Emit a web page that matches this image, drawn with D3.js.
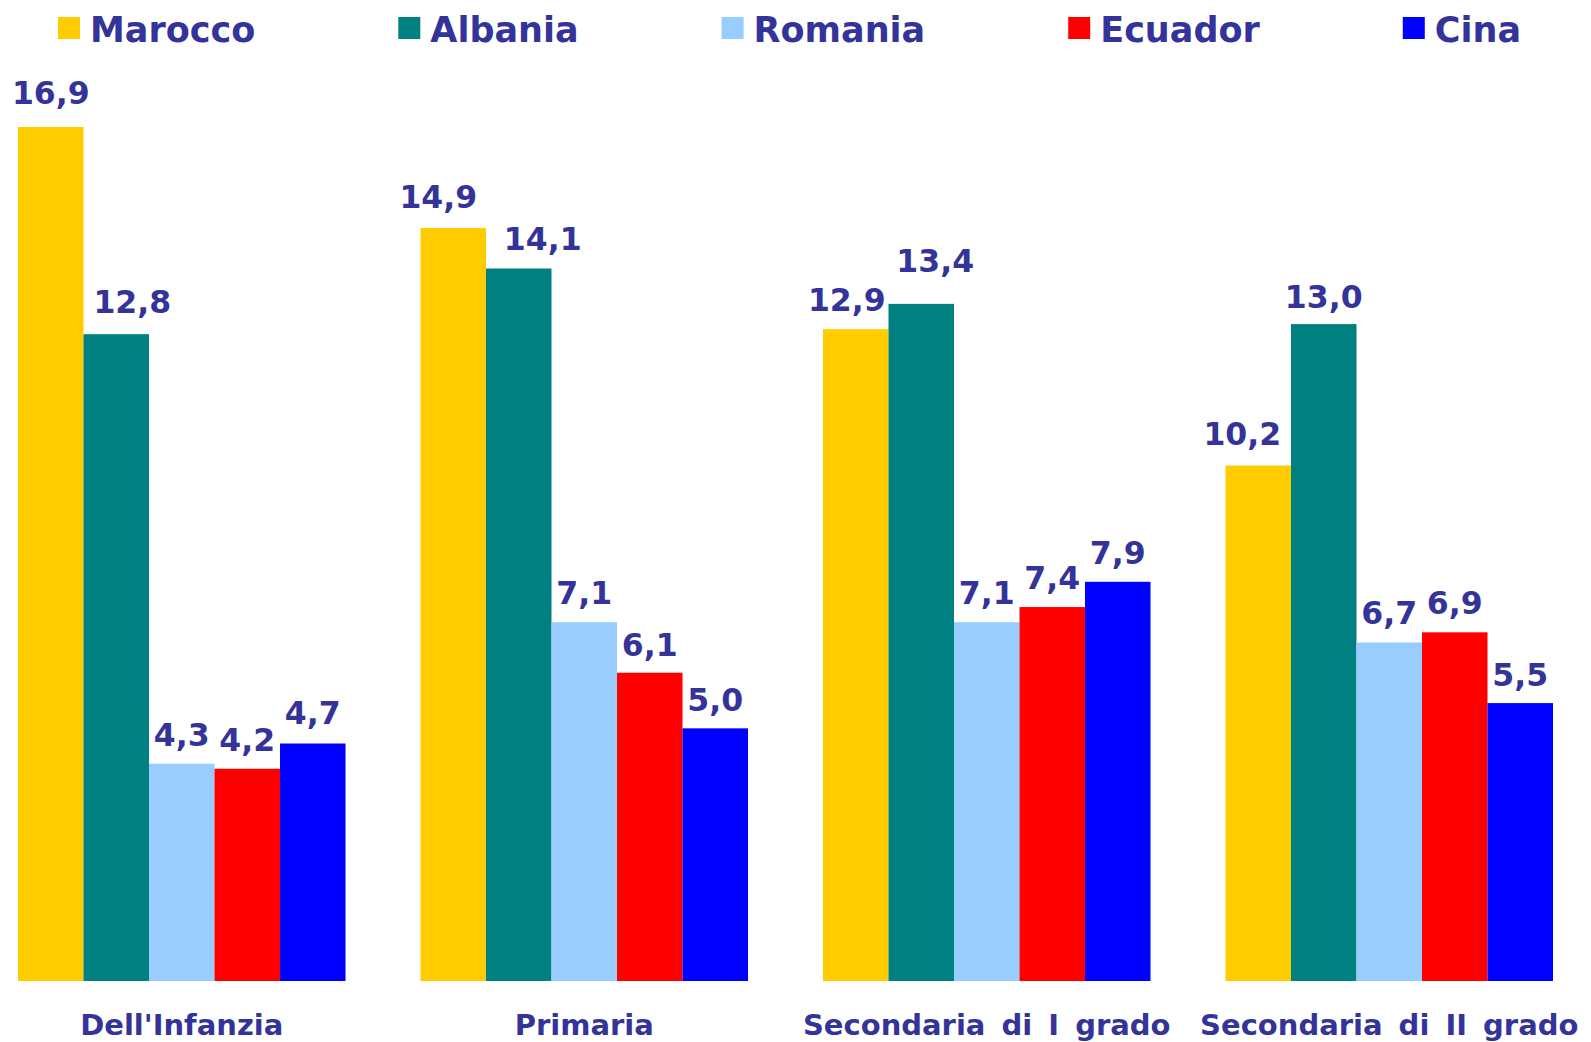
<!DOCTYPE html>
<html>
<head>
<meta charset="utf-8">
<script src="https://cdn.jsdelivr.net/npm/d3@7"></script>
<style>
  html, body { margin: 0; padding: 0; background: #ffffff; }
  svg { display: block; }
</style>
</head>
<body>
<svg id="chart" width="1591" height="1042"></svg>
<script>
// ---- Data ----
const categories = ["Dell'Infanzia", "Primaria", "Secondaria di I grado", "Secondaria di II grado"];
const series = ["Marocco", "Albania", "Romania", "Ecuador", "Cina"];
const marocco = [16.9, 14.9, 12.9, 10.2];
const albania = [12.8, 14.1, 13.4, 13.0];
const romania = [4.3, 7.1, 7.1, 6.7];
const ecuador = [4.2, 6.1, 7.4, 6.9];
const cina    = [4.7, 5.0, 7.9, 5.5];
const values = [marocco, albania, romania, ecuador, cina];

// ---- Style / layout ----
const colors = ["#FFCC00", "#008080", "#99CCFF", "#FF0000", "#0000FF"];
const textColor = "#333399";
const font = "'DejaVu Sans', Verdana, sans-serif";
// label nudges [category][series] in px (to avoid overlaps, as in original)
const labelDx = [[0, 16, 0, 0, 0], [-15, 24, 0, 0, 0], [-9, 14, 0, 0, 0], [-16, 0, 0, 0, 0]];
const labelDy = [[-5, -3, 0, 0, -1], [-2, 0, 0, 1, 1], [0, -14, 0, 0, 0], [-3, 2, 0, 0, 1]];

const svg = d3.select("#chart");

const x0 = d3.scaleBand().domain(categories).range([18, 1553]).paddingInner(0.1863).paddingOuter(0);
const x1 = d3.scaleBand().domain(series).range([0, x0.bandwidth()]).padding(0);
const y = d3.scaleLinear().domain([0, 16.9]).range([981, 127]);

const groups = svg.append("g").selectAll("g")
  .data(categories)
  .join("g")
  .attr("transform", d => `translate(${x0(d)},0)`);

groups.each(function(cat, ci) {
  const g = d3.select(this);
  const rows = series.map((s, si) => ({ s, si, v: values[si][ci] }));
  g.selectAll("rect")
    .data(rows)
    .join("rect")
    .attr("x", d => x1(d.s))
    .attr("y", d => y(d.v))
    .attr("width", x1.bandwidth())
    .attr("height", d => y(0) - y(d.v))
    .attr("fill", d => colors[d.si]);
  g.selectAll("text.val")
    .data(rows)
    .join("text")
    .attr("class", "val")
    .attr("x", d => x1(d.s) + x1.bandwidth() / 2 + labelDx[ci][d.si])
    .attr("y", d => y(d.v) - 18 + labelDy[ci][d.si])
    .attr("text-anchor", "middle")
    .attr("font-family", font)
    .attr("font-weight", "bold")
    .attr("font-size", "31.5px")
    .attr("fill", textColor)
    .text(d => d3.format(".1f")(d.v).replace(".", ","));
});

// category axis labels
const xAxis = d3.axisBottom(x0).tickSize(0).tickPadding(0);
const axisG = svg.append("g").attr("transform", "translate(0,981)").call(xAxis);
axisG.select(".domain").remove();
axisG.selectAll("text")
  .attr("y", 54)
  .attr("dy", 0)
  .attr("font-family", font)
  .attr("font-weight", "bold")
  .attr("font-size", "29px")
  .attr("word-spacing", "6px")
  .attr("fill", textColor);

// legend
const legend = svg.append("g");
let lx = 58;
series.forEach((s, i) => {
  const item = legend.append("g").attr("transform", `translate(${lx},0)`);
  item.append("rect").attr("x", 0).attr("y", 17).attr("width", 22).attr("height", 22).attr("fill", colors[i]);
  const t = item.append("text")
    .attr("x", 32).attr("y", 42)
    .attr("font-family", font)
    .attr("font-weight", "bold")
    .attr("font-size", "35px")
    .attr("fill", textColor)
    .text(s);
  lx += 32 + t.node().getComputedTextLength() + 143;
});
</script>
</body>
</html>
